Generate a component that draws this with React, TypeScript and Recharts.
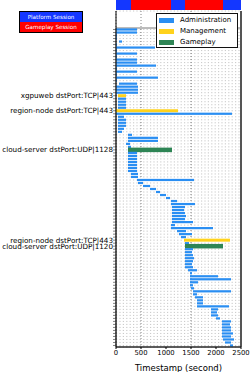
import React from 'react';
import {
  BarChart,
  Bar,
  XAxis,
  YAxis,
  CartesianGrid,
  ReferenceArea,
  ReferenceLine,
} from 'recharts';

// one row per flow, top to bottom
const rowStart = [
  0, 0, 0, 0, 60, 0, 0, 0, 0, 0, 0, 0, 0, 0, 0, 0, 0, 0, 60, 0, 0, 0,
  40, 40, 40, 40, 40, 0, 0, 40, 40, 40, 40, 40, 40,
  240, 240, 240, 200, 240, 240, 240, 240, 240, 240, 240, 240, 240, 300, 300,
  420, 440, 540, 680, 800, 880, 1000, 1100, 1100,
  1120, 1120, 1120, 1120, 1120, 1120, 1100, 1100, 1220, 1260, 1300,
  1360, 1380, 1380, 1380, 1380, 1380, 1380, 1380, 1380, 1380,
  1440, 1480, 1480, 1480, 1480, 1480, 1500, 1540, 1540, 1580, 1620, 1620, 1620,
  1900, 1900, 1900, 2000, 2120, 2120, 2120, 2120, 2120, 2120, 2140, 2180, 2280,
];

const rowEnd = [
  420, 420, 20, 20, 120, 20, 780, 20, 420, 20, 420, 420, 800, 20, 420, 20, 840, 20, 420, 440, 440, 440,
  200, 200, 200, 200, 200, 1240, 2320, 160, 200, 200, 200, 160, 120,
  320, 840, 840, 280, 300, 1120, 420, 420, 420, 420, 420, 420, 420, 440, 440,
  1560, 540, 680, 800, 880, 1000, 1080, 1220, 1580,
  1380, 1360, 1380, 1400, 1380, 1540, 1180, 1940, 1400, 1520, 1400,
  2280, 1460, 2140, 1540, 1520, 1540, 1560, 1540, 1520, 1540,
  1620, 1520, 2040, 2300, 1640, 1540, 1560, 2300, 1620, 1740, 1740, 1740, 2260,
  2040, 2020, 2040, 2080, 2300, 2280, 2300, 2300, 2340, 2300, 2360, 2300, 2340,
];

// A = Administration, M = Management, G = Gameplay
const rowKind = (
  'AAAAAAAAAA' + 'AAAAAAAAAA' + 'AAMAAAAMAA' + 'AAAAAAAAAA' + 'GAAAAAAAAA' +
  'AAAAAAAAAA' + 'AAAAAAAAAA' + 'MAGAAAAAAA' + 'AAAAAAAAAA' + 'AAAAAAAAAA' + 'AAAAAA'
).split('');

const rowLabels: Record<number, string> = {
  22: 'xgpuweb dstPort:TCP|443',
  27: 'region-node dstPort:TCP|443',
  40: 'cloud-server dstPort:UDP|1128',
  70: 'region-node dstPort:TCP|443',
  72: 'cloud-server dstPort:UDP|1120',
};

const sessionKinds = ['platform', 'gameplay', 'platform', 'gameplay', 'platform'];
const sessionDur = [300, 800, 280, 760, 360];

const xTicks = [0, 500, 1000, 1500, 2000, 2500];

const kindName: Record<string, string> = { A: 'Administration', M: 'Management', G: 'Gameplay' };
const kindColor: Record<string, string> = { A: '#2a8ef2', M: '#ffd21c', G: '#2e8555' };
const kindHeight: Record<string, number> = { A: 2.2, M: 3, G: 4.5 };
const sessionColor: Record<string, string> = { platform: '#1437ff', gameplay: '#ff0000' };

const rows = rowStart.map((s, i) => ({
  id: i,
  range: [s, rowEnd[i]],
  kind: rowKind[i],
}));

const sessionRow: Record<string, number | string> = { name: 's' };
sessionDur.forEach((d, i) => {
  sessionRow['s' + i] = d;
});

const font = 'DejaVu Sans, sans-serif';

const FlowBar = (props: any) => {
  const { x, y, width, height, payload } = props;
  const h = kindHeight[payload.kind];
  return (
    <rect
      x={x}
      y={y + height / 2 - h / 2}
      width={Math.max(width, 0.5)}
      height={h}
      fill={kindColor[payload.kind]}
    />
  );
};

const RowTick = (props: any) => {
  const { x, y, payload } = props;
  const label = rowLabels[payload.value];
  if (!label) return <g />;
  return (
    <text x={x} y={y} dy="0.35em" textAnchor="end" fontSize={7.2} fill="#000" fontFamily={font}>
      {label}
    </text>
  );
};

const LegendBox = () => (
  <div
    style={{
      position: 'absolute',
      left: 156,
      top: 13,
      border: '1px solid #111',
      background: '#fff',
      width: 82,
      height: 35,
      boxSizing: 'border-box',
      padding: '1px 0 0 2px',
      fontFamily: font,
      fontSize: 7,
      lineHeight: '11px',
    }}
  >
    {['A', 'M', 'G'].map((k) => (
      <div key={k} style={{ display: 'flex', alignItems: 'center', height: 11 }}>
        <span
          style={{ display: 'inline-block', width: 15, height: 5, background: kindColor[k], marginRight: 6 }}
        />
        <span>{kindName[k]}</span>
      </div>
    ))}
  </div>
);

export default function App() {
  return (
    <div style={{ position: 'absolute', left: 0, top: 0, width: 250, height: 372, background: '#fff' }}>
      <div
        style={{
          position: 'absolute',
          left: 19,
          top: 11,
          width: 64,
          border: '1px solid #000',
          boxSizing: 'border-box',
          fontFamily: font,
          fontSize: 5.6,
          color: '#fff',
          textAlign: 'center',
        }}
      >
        <div style={{ background: sessionColor.platform, height: 10, lineHeight: '10px' }}>Platform Session</div>
        <div style={{ background: sessionColor.gameplay, height: 10, lineHeight: '10px' }}>Gameplay Session</div>
      </div>

      <div style={{ position: 'absolute', left: 0, top: 0 }}>
        <BarChart
          width={250}
          height={10}
          layout="vertical"
          data={[sessionRow]}
          margin={{ top: 0, right: 9, bottom: 0, left: 116 }}
          barCategoryGap={0}
        >
          <XAxis type="number" hide domain={[0, 2500]} />
          <YAxis type="category" dataKey="name" hide />
          {sessionKinds.map((k, i) => (
            <Bar key={i} dataKey={'s' + i} stackId="s" fill={sessionColor[k]} isAnimationActive={false} />
          ))}
        </BarChart>
      </div>

      <div style={{ position: 'absolute', left: 0, top: 0 }}>
        <BarChart
          width={250}
          height={372}
          layout="vertical"
          data={rows}
          margin={{ top: 11, right: 9, bottom: 0, left: 0 }}
          barCategoryGap={0}
        >
          <CartesianGrid horizontal vertical={false} stroke="#b0b0b0" strokeDasharray="1.2 2.2" strokeWidth={0.7} />
          <CartesianGrid horizontal={false} vertical stroke="#666" strokeDasharray="1 2" strokeWidth={0.8} />
          <XAxis
            type="number"
            domain={[0, 2500]}
            ticks={xTicks}
            height={25}
            tickSize={2}
            tickMargin={1}
            axisLine={{ stroke: '#000' }}
            tickLine={{ stroke: '#000' }}
            tick={{ fontSize: 6.8, fill: '#000', fontFamily: font }}
            label={{
              value: 'Timestamp (second)',
              position: 'insideBottom',
              offset: 1,
              style: { fontSize: 8.5, fill: '#000', fontFamily: font },
            }}
          />
          <YAxis
            type="category"
            dataKey="id"
            width={116}
            interval={0}
            padding={{ top: 17, bottom: 0 }}
            tickSize={3}
            tickMargin={0}
            axisLine={{ stroke: '#000' }}
            tickLine={{ stroke: '#333', strokeWidth: 0.6 }}
            tick={RowTick}
          />
          <ReferenceArea x1={0} x2={2500} fill="none" stroke="#555" strokeWidth={0.8} />
          <ReferenceLine x={2500} stroke="#555" strokeWidth={2} />
          <Bar dataKey="range" shape={FlowBar} isAnimationActive={false} />
        </BarChart>
      </div>

      <LegendBox />
    </div>
  );
}
